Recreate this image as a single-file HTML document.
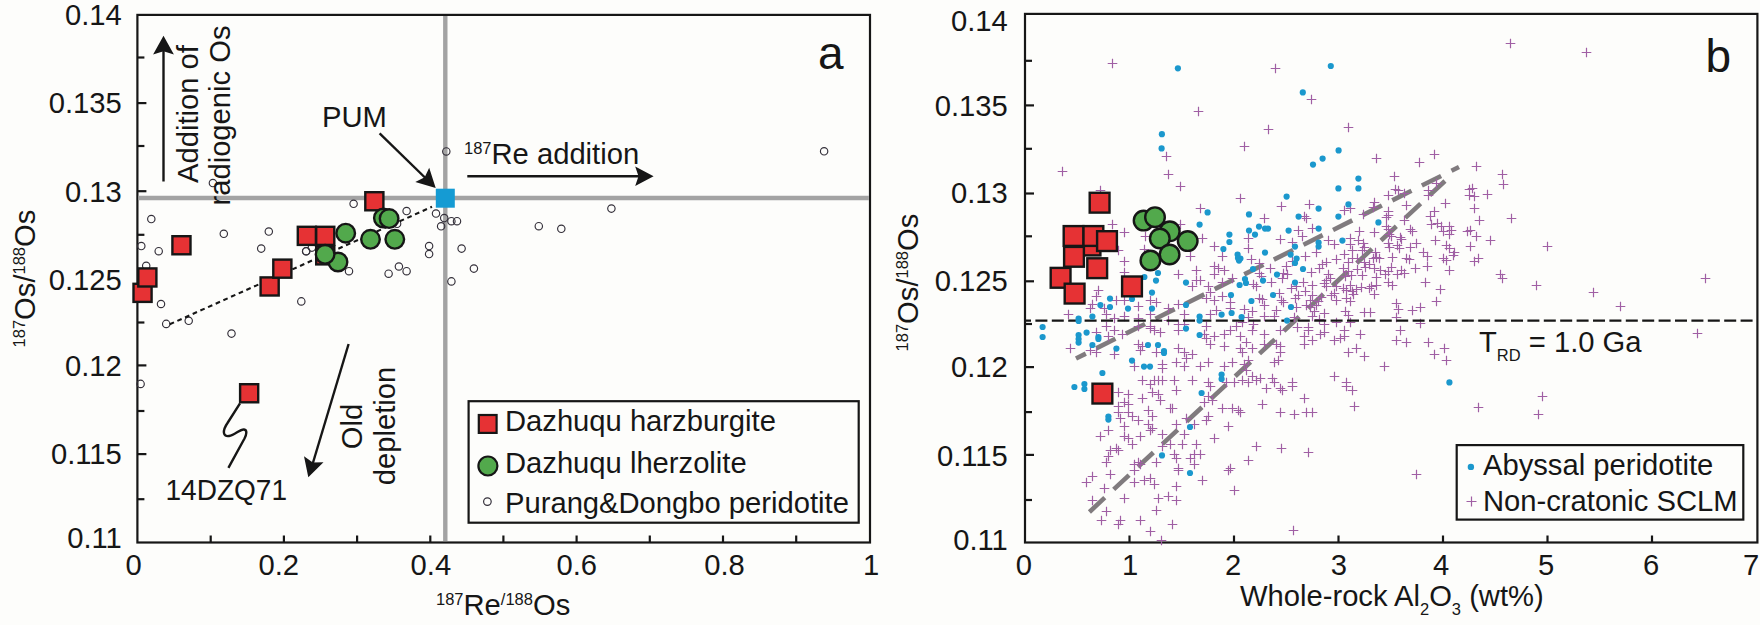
<!DOCTYPE html>
<html><head><meta charset="utf-8"><title>Os isotope plots</title>
<style>html,body{margin:0;padding:0;background:#fdfdfb;}svg{display:block;}</style></head>
<body><svg width="1760" height="625" viewBox="0 0 1760 625">
<rect width="1760" height="625" fill="#fdfdfb"/>
<rect x="137.4" y="14.9" width="732.6" height="527.6" fill="none" stroke="#161616" stroke-width="2.2"/>
<line x1="137.4" y1="57.5" x2="144.4" y2="57.5" stroke="#161616" stroke-width="2.2"/>
<line x1="137.4" y1="103.1" x2="146.4" y2="103.1" stroke="#161616" stroke-width="2.2"/>
<line x1="137.4" y1="146.0" x2="144.4" y2="146.0" stroke="#161616" stroke-width="2.2"/>
<line x1="137.4" y1="191.2" x2="146.4" y2="191.2" stroke="#161616" stroke-width="2.2"/>
<line x1="137.4" y1="234.8" x2="144.4" y2="234.8" stroke="#161616" stroke-width="2.2"/>
<line x1="137.4" y1="278.7" x2="146.4" y2="278.7" stroke="#161616" stroke-width="2.2"/>
<line x1="137.4" y1="322.5" x2="144.4" y2="322.5" stroke="#161616" stroke-width="2.2"/>
<line x1="137.4" y1="365.4" x2="146.4" y2="365.4" stroke="#161616" stroke-width="2.2"/>
<line x1="137.4" y1="411.0" x2="144.4" y2="411.0" stroke="#161616" stroke-width="2.2"/>
<line x1="137.4" y1="454.1" x2="146.4" y2="454.1" stroke="#161616" stroke-width="2.2"/>
<line x1="137.4" y1="499.2" x2="144.4" y2="499.2" stroke="#161616" stroke-width="2.2"/>
<line x1="210.7" y1="542.5" x2="210.7" y2="535.5" stroke="#161616" stroke-width="2.2"/>
<line x1="283.9" y1="542.5" x2="283.9" y2="535.5" stroke="#161616" stroke-width="2.2"/>
<line x1="357.1" y1="542.5" x2="357.1" y2="535.5" stroke="#161616" stroke-width="2.2"/>
<line x1="430.3" y1="542.5" x2="430.3" y2="535.5" stroke="#161616" stroke-width="2.2"/>
<line x1="503.4" y1="542.5" x2="503.4" y2="535.5" stroke="#161616" stroke-width="2.2"/>
<line x1="576.6" y1="542.5" x2="576.6" y2="535.5" stroke="#161616" stroke-width="2.2"/>
<line x1="649.8" y1="542.5" x2="649.8" y2="535.5" stroke="#161616" stroke-width="2.2"/>
<line x1="723.0" y1="542.5" x2="723.0" y2="535.5" stroke="#161616" stroke-width="2.2"/>
<line x1="796.2" y1="542.5" x2="796.2" y2="535.5" stroke="#161616" stroke-width="2.2"/>
<rect x="1025.0" y="13.9" width="732.4" height="528.6" fill="none" stroke="#161616" stroke-width="2.2"/>
<line x1="1025.0" y1="60.8" x2="1032.0" y2="60.8" stroke="#161616" stroke-width="2.2"/>
<line x1="1025.0" y1="105.4" x2="1034.0" y2="105.4" stroke="#161616" stroke-width="2.2"/>
<line x1="1025.0" y1="148.8" x2="1032.0" y2="148.8" stroke="#161616" stroke-width="2.2"/>
<line x1="1025.0" y1="193.5" x2="1034.0" y2="193.5" stroke="#161616" stroke-width="2.2"/>
<line x1="1025.0" y1="236.3" x2="1032.0" y2="236.3" stroke="#161616" stroke-width="2.2"/>
<line x1="1025.0" y1="281.3" x2="1034.0" y2="281.3" stroke="#161616" stroke-width="2.2"/>
<line x1="1025.0" y1="324.0" x2="1032.0" y2="324.0" stroke="#161616" stroke-width="2.2"/>
<line x1="1025.0" y1="367.1" x2="1034.0" y2="367.1" stroke="#161616" stroke-width="2.2"/>
<line x1="1025.0" y1="412.1" x2="1032.0" y2="412.1" stroke="#161616" stroke-width="2.2"/>
<line x1="1025.0" y1="454.9" x2="1034.0" y2="454.9" stroke="#161616" stroke-width="2.2"/>
<line x1="1025.0" y1="500.0" x2="1032.0" y2="500.0" stroke="#161616" stroke-width="2.2"/>
<line x1="1129.5" y1="542.5" x2="1129.5" y2="535.5" stroke="#161616" stroke-width="2.2"/>
<line x1="1234.0" y1="542.5" x2="1234.0" y2="535.5" stroke="#161616" stroke-width="2.2"/>
<line x1="1338.5" y1="542.5" x2="1338.5" y2="535.5" stroke="#161616" stroke-width="2.2"/>
<line x1="1443.0" y1="542.5" x2="1443.0" y2="535.5" stroke="#161616" stroke-width="2.2"/>
<line x1="1547.5" y1="542.5" x2="1547.5" y2="535.5" stroke="#161616" stroke-width="2.2"/>
<line x1="1652.0" y1="542.5" x2="1652.0" y2="535.5" stroke="#161616" stroke-width="2.2"/>
<line x1="138.5" y1="198.0" x2="868.9" y2="198.0" stroke="#a3a3a3" stroke-width="4.4"/>
<line x1="445.3" y1="16" x2="445.3" y2="541.1" stroke="#a3a3a3" stroke-width="4.4"/>
<circle cx="151.3" cy="219" r="3.7" fill="none" stroke="#34303a" stroke-width="1.15"/>
<circle cx="141.3" cy="246" r="3.7" fill="none" stroke="#34303a" stroke-width="1.15"/>
<circle cx="158.70000000000002" cy="251.2" r="3.7" fill="none" stroke="#34303a" stroke-width="1.15"/>
<circle cx="146.20000000000002" cy="265.8" r="3.7" fill="none" stroke="#34303a" stroke-width="1.15"/>
<circle cx="161.0" cy="304" r="3.7" fill="none" stroke="#34303a" stroke-width="1.15"/>
<circle cx="166.20000000000002" cy="323.9" r="3.7" fill="none" stroke="#34303a" stroke-width="1.15"/>
<circle cx="188.70000000000002" cy="320.8" r="3.7" fill="none" stroke="#34303a" stroke-width="1.15"/>
<circle cx="231.5" cy="333.6" r="3.7" fill="none" stroke="#34303a" stroke-width="1.15"/>
<circle cx="223.8" cy="233.8" r="3.7" fill="none" stroke="#34303a" stroke-width="1.15"/>
<circle cx="268.8" cy="231.5" r="3.7" fill="none" stroke="#34303a" stroke-width="1.15"/>
<circle cx="261.2" cy="248.6" r="3.7" fill="none" stroke="#34303a" stroke-width="1.15"/>
<circle cx="306.2" cy="251.2" r="3.7" fill="none" stroke="#34303a" stroke-width="1.15"/>
<circle cx="301.3" cy="301.4" r="3.7" fill="none" stroke="#34303a" stroke-width="1.15"/>
<circle cx="212.9" cy="183" r="3.7" fill="none" stroke="#34303a" stroke-width="1.15"/>
<circle cx="353.6" cy="203.8" r="3.7" fill="none" stroke="#34303a" stroke-width="1.15"/>
<circle cx="406.6" cy="211" r="3.7" fill="none" stroke="#34303a" stroke-width="1.15"/>
<circle cx="397.1" cy="223.8" r="3.7" fill="none" stroke="#34303a" stroke-width="1.15"/>
<circle cx="436.0" cy="213.5" r="3.7" fill="none" stroke="#34303a" stroke-width="1.15"/>
<circle cx="444.2" cy="218.1" r="3.7" fill="none" stroke="#34303a" stroke-width="1.15"/>
<circle cx="451.40000000000003" cy="221.2" r="3.7" fill="none" stroke="#34303a" stroke-width="1.15"/>
<circle cx="457.0" cy="221.2" r="3.7" fill="none" stroke="#34303a" stroke-width="1.15"/>
<circle cx="441.1" cy="226.3" r="3.7" fill="none" stroke="#34303a" stroke-width="1.15"/>
<circle cx="429.1" cy="246.1" r="3.7" fill="none" stroke="#34303a" stroke-width="1.15"/>
<circle cx="429.1" cy="254" r="3.7" fill="none" stroke="#34303a" stroke-width="1.15"/>
<circle cx="461.6" cy="248.6" r="3.7" fill="none" stroke="#34303a" stroke-width="1.15"/>
<circle cx="473.90000000000003" cy="268.6" r="3.7" fill="none" stroke="#34303a" stroke-width="1.15"/>
<circle cx="451.40000000000003" cy="281.4" r="3.7" fill="none" stroke="#34303a" stroke-width="1.15"/>
<circle cx="398.90000000000003" cy="266.5" r="3.7" fill="none" stroke="#34303a" stroke-width="1.15"/>
<circle cx="406.6" cy="271.2" r="3.7" fill="none" stroke="#34303a" stroke-width="1.15"/>
<circle cx="388.6" cy="273.7" r="3.7" fill="none" stroke="#34303a" stroke-width="1.15"/>
<circle cx="349.0" cy="271.2" r="3.7" fill="none" stroke="#34303a" stroke-width="1.15"/>
<circle cx="306.1" cy="251.3" r="3.7" fill="none" stroke="#34303a" stroke-width="1.15"/>
<circle cx="311.90000000000003" cy="247.6" r="3.7" fill="none" stroke="#34303a" stroke-width="1.15"/>
<circle cx="446.3" cy="151.4" r="3.7" fill="none" stroke="#34303a" stroke-width="1.15"/>
<circle cx="824.0999999999999" cy="151.3" r="3.7" fill="none" stroke="#34303a" stroke-width="1.15"/>
<circle cx="611.4" cy="208.6" r="3.7" fill="none" stroke="#34303a" stroke-width="1.15"/>
<circle cx="538.8" cy="226.2" r="3.7" fill="none" stroke="#34303a" stroke-width="1.15"/>
<circle cx="561.3" cy="228.8" r="3.7" fill="none" stroke="#34303a" stroke-width="1.15"/>
<circle cx="140.60000000000002" cy="383.9" r="3.7" fill="none" stroke="#34303a" stroke-width="1.15"/>
<line x1="169.7" y1="324.3" x2="432" y2="206.8" stroke="#161616" stroke-width="2.1" stroke-dasharray="4.7,3.7"/>
<rect x="133.5" y="283.8" width="18.1" height="18.1" fill="#e63234" stroke="#161616" stroke-width="2.4"/>
<rect x="138.3" y="268.4" width="18.1" height="18.1" fill="#e63234" stroke="#161616" stroke-width="2.4"/>
<rect x="172.4" y="236.2" width="18.1" height="18.1" fill="#e63234" stroke="#161616" stroke-width="2.4"/>
<rect x="260.6" y="277.4" width="18.1" height="18.1" fill="#e63234" stroke="#161616" stroke-width="2.4"/>
<rect x="273.3" y="259.6" width="18.1" height="18.1" fill="#e63234" stroke="#161616" stroke-width="2.4"/>
<rect x="297.8" y="226.8" width="18.1" height="18.1" fill="#e63234" stroke="#161616" stroke-width="2.4"/>
<rect x="316.2" y="246.3" width="18.1" height="18.1" fill="#e63234" stroke="#161616" stroke-width="2.4"/>
<rect x="316.2" y="226.8" width="18.1" height="18.1" fill="#e63234" stroke="#161616" stroke-width="2.4"/>
<rect x="365.3" y="192.2" width="18.1" height="18.1" fill="#e63234" stroke="#161616" stroke-width="2.4"/>
<rect x="240.1" y="384.2" width="18.1" height="18.1" fill="#e63234" stroke="#161616" stroke-width="2.4"/>
<circle cx="345.7" cy="233.2" r="9.3" fill="#52a94c" stroke="#161616" stroke-width="2.4"/>
<circle cx="338" cy="262" r="9.3" fill="#52a94c" stroke="#161616" stroke-width="2.4"/>
<circle cx="325.1" cy="254.3" r="9.3" fill="#52a94c" stroke="#161616" stroke-width="2.4"/>
<circle cx="370.5" cy="239.3" r="9.3" fill="#52a94c" stroke="#161616" stroke-width="2.4"/>
<circle cx="394.8" cy="239.3" r="9.3" fill="#52a94c" stroke="#161616" stroke-width="2.4"/>
<circle cx="383.4" cy="218" r="9.3" fill="#52a94c" stroke="#161616" stroke-width="2.4"/>
<circle cx="389.1" cy="218.6" r="9.3" fill="#52a94c" stroke="#161616" stroke-width="2.4"/>
<rect x="435.8" y="188.7" width="19" height="19" fill="#159bd3"/>
<line x1="163.5" y1="181.5" x2="163.5" y2="48" stroke="#161616" stroke-width="2.4"/>
<path d="M163.5,35.8 L173.9,54.6 L163.5,51.2 L153.1,54.6 Z" fill="#161616"/>
<line x1="379.6" y1="133.4" x2="428" y2="180.5" stroke="#161616" stroke-width="2.4"/>
<path d="M435.7,188.0 L415.3,182.1 L424.7,177.3 L429.2,167.7 Z" fill="#161616"/>
<line x1="467.3" y1="176.3" x2="642" y2="176.3" stroke="#161616" stroke-width="2.5"/>
<path d="M653.6,176.3 L635.2,186.0 L638.5,176.3 L635.2,166.6 Z" fill="#161616"/>
<line x1="348.6" y1="344" x2="312" y2="466" stroke="#161616" stroke-width="2.4"/>
<path d="M308.3,477.2 L304.0,456.3 L312.8,462.5 L323.5,462.2 Z" fill="#161616"/>
<path d="M240,403.3 L227.5,423 C222,431 223,437 229,436 C235,435 240,429 244,429.5 C247.5,430 246.5,434.5 244.5,438.5 L228.4,467.9" fill="none" stroke="#161616" stroke-width="2.4" stroke-linejoin="round"/>
<line x1="1076" y1="358.5" x2="1459" y2="167" stroke="#807b7e" stroke-width="4.6" stroke-dasharray="21.5,11.6" stroke-dashoffset="10.5"/>
<line x1="1089.4" y1="512" x2="1446" y2="180" stroke="#807b7e" stroke-width="4.6" stroke-dasharray="21,12.2"/>
<path d="M1107.7,63.5h9.6M1112.5,58.7v9.6M1270.7,68.5h9.6M1275.5,63.7v9.6M1193.7,111.5h9.6M1198.5,106.7v9.6M1263.7,129.5h9.6M1268.5,124.7v9.6M1306.7,99.5h9.6M1311.5,94.7v9.6M1343.7,127.5h9.6M1348.5,122.7v9.6M1505.7,43.5h9.6M1510.5,38.7v9.6M1581.7,52.5h9.6M1586.5,47.7v9.6M1057.7,171.5h9.6M1062.5,166.7v9.6M1161.7,156.5h9.6M1166.5,151.7v9.6M1163.7,174.5h9.6M1168.5,169.7v9.6M1175.7,186.5h9.6M1180.5,181.7v9.6M1235.7,198.5h9.6M1240.5,193.7v9.6M1195.7,208.5h9.6M1200.5,203.7v9.6M1107.7,224.5h9.6M1112.5,219.7v9.6M1119.7,232.5h9.6M1124.5,227.7v9.6M1175.7,224.5h9.6M1180.5,219.7v9.6M1197.7,238.5h9.6M1202.5,233.7v9.6M1209.7,246.5h9.6M1214.5,241.7v9.6M1217.7,256.5h9.6M1222.5,251.7v9.6M1185.7,256.5h9.6M1190.5,251.7v9.6M1119.7,261.5h9.6M1124.5,256.7v9.6M1140.7,236.5h9.6M1145.5,231.7v9.6M1243.7,238.5h9.6M1248.5,233.7v9.6M1095.7,190.5h9.6M1100.5,185.7v9.6M1113.7,250.5h9.6M1118.5,245.7v9.6M1139.7,249.5h9.6M1144.5,244.7v9.6M1239.7,146.5h9.6M1244.5,141.7v9.6M1371.7,158.5h9.6M1376.5,153.7v9.6M1429.7,154.5h9.6M1434.5,149.7v9.6M1414.7,162.5h9.6M1419.5,157.7v9.6M1389.7,176.5h9.6M1394.5,171.7v9.6M1276.7,206.5h9.6M1281.5,201.7v9.6M1304.7,204.5h9.6M1309.5,199.7v9.6M1259.7,218.5h9.6M1264.5,213.7v9.6M1299.7,216.5h9.6M1304.5,211.7v9.6M1301.7,218.5h9.6M1306.5,213.7v9.6M1339.7,210.5h9.6M1344.5,205.7v9.6M1345.7,208.5h9.6M1350.5,203.7v9.6M1293.7,230.5h9.6M1298.5,225.7v9.6M1307.7,228.5h9.6M1312.5,223.7v9.6M1275.7,239.5h9.6M1280.5,234.7v9.6M1297.7,236.5h9.6M1302.5,231.7v9.6M1287.7,242.5h9.6M1292.5,237.7v9.6M1243.7,248.5h9.6M1248.5,243.7v9.6M1311.7,252.5h9.6M1316.5,247.7v9.6M1323.7,240.5h9.6M1328.5,235.7v9.6M1329.7,244.5h9.6M1334.5,239.7v9.6M1345.7,238.5h9.6M1350.5,233.7v9.6M1345.7,244.5h9.6M1350.5,239.7v9.6M1339.7,254.5h9.6M1344.5,249.7v9.6M1347.7,250.5h9.6M1352.5,245.7v9.6M1471.7,166.5h9.6M1476.5,161.7v9.6M1497.7,174.5h9.6M1502.5,169.7v9.6M1498.7,184.5h9.6M1503.5,179.7v9.6M1467.7,188.5h9.6M1472.5,183.7v9.6M1469.7,196.5h9.6M1474.5,191.7v9.6M1482.7,194.5h9.6M1487.5,189.7v9.6M1469.7,208.5h9.6M1474.5,203.7v9.6M1474.7,220.5h9.6M1479.5,215.7v9.6M1506.7,218.5h9.6M1511.5,213.7v9.6M1465.7,230.5h9.6M1470.5,225.7v9.6M1471.7,236.5h9.6M1476.5,231.7v9.6M1485.7,240.5h9.6M1490.5,235.7v9.6M1465.7,246.5h9.6M1470.5,241.7v9.6M1542.7,246.5h9.6M1547.5,241.7v9.6M1473.7,258.5h9.6M1478.5,253.7v9.6M1469.7,261.5h9.6M1474.5,256.7v9.6M1119.7,272.5h9.6M1124.5,267.7v9.6M1173.7,274.5h9.6M1178.5,269.7v9.6M1191.7,270.5h9.6M1196.5,265.7v9.6M1191.7,280.5h9.6M1196.5,275.7v9.6M1195.7,280.5h9.6M1200.5,275.7v9.6M1187.7,286.5h9.6M1192.5,281.7v9.6M1209.7,266.5h9.6M1214.5,261.7v9.6M1213.7,268.5h9.6M1218.5,263.7v9.6M1219.7,270.5h9.6M1224.5,265.7v9.6M1209.7,274.5h9.6M1214.5,269.7v9.6M1227.7,278.5h9.6M1232.5,273.7v9.6M1217.7,282.5h9.6M1222.5,277.7v9.6M1203.7,286.5h9.6M1208.5,281.7v9.6M1205.7,292.5h9.6M1210.5,287.7v9.6M1201.7,298.5h9.6M1206.5,293.7v9.6M1209.7,300.5h9.6M1214.5,295.7v9.6M1217.7,296.5h9.6M1222.5,291.7v9.6M1225.7,302.5h9.6M1230.5,297.7v9.6M1093.7,290.5h9.6M1098.5,285.7v9.6M1091.7,296.5h9.6M1096.5,291.7v9.6M1087.7,304.5h9.6M1092.5,299.7v9.6M1085.7,308.5h9.6M1090.5,303.7v9.6M1099.7,308.5h9.6M1104.5,303.7v9.6M1111.7,300.5h9.6M1116.5,295.7v9.6M1119.7,300.5h9.6M1124.5,295.7v9.6M1133.7,306.5h9.6M1138.5,301.7v9.6M1145.7,300.5h9.6M1150.5,295.7v9.6M1151.7,302.5h9.6M1156.5,297.7v9.6M1163.7,308.5h9.6M1168.5,303.7v9.6M1173.7,304.5h9.6M1178.5,299.7v9.6M1063.7,314.5h9.6M1068.5,309.7v9.6M1101.7,314.5h9.6M1106.5,309.7v9.6M1109.7,318.5h9.6M1114.5,313.7v9.6M1119.7,316.5h9.6M1124.5,311.7v9.6M1133.7,318.5h9.6M1138.5,313.7v9.6M1145.7,314.5h9.6M1150.5,309.7v9.6M1179.7,314.5h9.6M1184.5,309.7v9.6M1163.7,320.5h9.6M1168.5,315.7v9.6M1173.7,324.5h9.6M1178.5,319.7v9.6M1179.7,324.5h9.6M1184.5,319.7v9.6M1205.7,314.5h9.6M1210.5,309.7v9.6M1211.7,310.5h9.6M1216.5,305.7v9.6M1225.7,308.5h9.6M1230.5,303.7v9.6M1201.7,326.5h9.6M1206.5,321.7v9.6M1231.7,326.5h9.6M1236.5,321.7v9.6M1225.7,330.5h9.6M1230.5,325.7v9.6M1101.7,326.5h9.6M1106.5,321.7v9.6M1109.7,330.5h9.6M1114.5,325.7v9.6M1117.7,334.5h9.6M1122.5,329.7v9.6M1145.7,326.5h9.6M1150.5,321.7v9.6M1145.7,328.5h9.6M1150.5,323.7v9.6M1149.7,330.5h9.6M1154.5,325.7v9.6M1155.7,332.5h9.6M1160.5,327.7v9.6M1133.7,326.5h9.6M1138.5,321.7v9.6M1091.7,332.5h9.6M1096.5,327.7v9.6M1103.7,336.5h9.6M1108.5,331.7v9.6M1173.7,330.5h9.6M1178.5,325.7v9.6M1199.7,334.5h9.6M1204.5,329.7v9.6M1209.7,336.5h9.6M1214.5,331.7v9.6M1219.7,334.5h9.6M1224.5,329.7v9.6M1235.7,336.5h9.6M1240.5,331.7v9.6M1065.7,348.5h9.6M1070.5,343.7v9.6M1085.7,350.5h9.6M1090.5,345.7v9.6M1091.7,352.5h9.6M1096.5,347.7v9.6M1109.7,354.5h9.6M1114.5,349.7v9.6M1133.7,344.5h9.6M1138.5,339.7v9.6M1137.7,346.5h9.6M1142.5,341.7v9.6M1135.7,350.5h9.6M1140.5,345.7v9.6M1151.7,352.5h9.6M1156.5,347.7v9.6M1173.7,348.5h9.6M1178.5,343.7v9.6M1179.7,352.5h9.6M1184.5,347.7v9.6M1187.7,354.5h9.6M1192.5,349.7v9.6M1201.7,338.5h9.6M1206.5,333.7v9.6M1205.7,344.5h9.6M1210.5,339.7v9.6M1219.7,346.5h9.6M1224.5,341.7v9.6M1235.7,348.5h9.6M1240.5,343.7v9.6M1237.7,352.5h9.6M1242.5,347.7v9.6M1241.7,342.5h9.6M1246.5,337.7v9.6M1227.7,362.5h9.6M1232.5,357.7v9.6M1219.7,366.5h9.6M1224.5,361.7v9.6M1203.7,362.5h9.6M1208.5,357.7v9.6M1195.7,366.5h9.6M1200.5,361.7v9.6M1181.7,358.5h9.6M1186.5,353.7v9.6M1171.7,362.5h9.6M1176.5,357.7v9.6M1179.7,366.5h9.6M1184.5,361.7v9.6M1157.7,364.5h9.6M1162.5,359.7v9.6M1157.7,368.5h9.6M1162.5,363.7v9.6M1129.7,366.5h9.6M1134.5,361.7v9.6M1137.7,380.5h9.6M1142.5,375.7v9.6M1149.7,380.5h9.6M1154.5,375.7v9.6M1153.7,380.5h9.6M1158.5,375.7v9.6M1169.7,380.5h9.6M1174.5,375.7v9.6M1187.7,380.5h9.6M1192.5,375.7v9.6M1203.7,382.5h9.6M1208.5,377.7v9.6M1221.7,382.5h9.6M1226.5,377.7v9.6M1237.7,380.5h9.6M1242.5,375.7v9.6M1241.7,370.5h9.6M1246.5,365.7v9.6M1247.7,330.5h9.6M1252.5,325.7v9.6M1259.7,334.5h9.6M1264.5,329.7v9.6M1275.7,330.5h9.6M1280.5,325.7v9.6M1299.7,336.5h9.6M1304.5,331.7v9.6M1303.7,330.5h9.6M1308.5,325.7v9.6M1307.7,340.5h9.6M1312.5,335.7v9.6M1315.7,334.5h9.6M1320.5,329.7v9.6M1319.7,332.5h9.6M1324.5,327.7v9.6M1329.7,340.5h9.6M1334.5,335.7v9.6M1335.7,338.5h9.6M1340.5,333.7v9.6M1339.7,336.5h9.6M1344.5,331.7v9.6M1339.7,330.5h9.6M1344.5,325.7v9.6M1355.7,334.5h9.6M1360.5,329.7v9.6M1395.7,330.5h9.6M1400.5,325.7v9.6M1391.7,340.5h9.6M1396.5,335.7v9.6M1401.7,342.5h9.6M1406.5,337.7v9.6M1423.7,342.5h9.6M1428.5,337.7v9.6M1247.7,348.5h9.6M1252.5,343.7v9.6M1259.7,344.5h9.6M1264.5,339.7v9.6M1271.7,344.5h9.6M1276.5,339.7v9.6M1275.7,346.5h9.6M1280.5,341.7v9.6M1275.7,352.5h9.6M1280.5,347.7v9.6M1299.7,344.5h9.6M1304.5,339.7v9.6M1343.7,352.5h9.6M1348.5,347.7v9.6M1351.7,348.5h9.6M1356.5,343.7v9.6M1359.7,356.5h9.6M1364.5,351.7v9.6M1429.7,354.5h9.6M1434.5,349.7v9.6M1439.7,348.5h9.6M1444.5,343.7v9.6M1441.7,360.5h9.6M1446.5,355.7v9.6M1239.7,364.5h9.6M1244.5,359.7v9.6M1243.7,360.5h9.6M1248.5,355.7v9.6M1247.7,376.5h9.6M1252.5,371.7v9.6M1255.7,378.5h9.6M1260.5,373.7v9.6M1267.7,378.5h9.6M1272.5,373.7v9.6M1269.7,362.5h9.6M1274.5,357.7v9.6M1273.7,360.5h9.6M1278.5,355.7v9.6M1329.7,376.5h9.6M1334.5,371.7v9.6M1341.7,382.5h9.6M1346.5,377.7v9.6M1379.7,366.5h9.6M1384.5,361.7v9.6M1287.7,382.5h9.6M1292.5,377.7v9.6M1495.7,274.5h9.6M1500.5,269.7v9.6M1497.7,278.5h9.6M1502.5,273.7v9.6M1531.7,285.5h9.6M1536.5,280.7v9.6M1588.7,292.5h9.6M1593.5,287.7v9.6M1615.7,306.5h9.6M1620.5,301.7v9.6M1700.7,278.5h9.6M1705.5,273.7v9.6M1692.7,333.5h9.6M1697.5,328.7v9.6M1145.7,384.5h9.6M1150.5,379.7v9.6M1157.7,380.5h9.6M1162.5,375.7v9.6M1205.7,386.5h9.6M1210.5,381.7v9.6M1229.7,382.5h9.6M1234.5,377.7v9.6M1243.7,382.5h9.6M1248.5,377.7v9.6M1113.7,392.5h9.6M1118.5,387.7v9.6M1123.7,394.5h9.6M1128.5,389.7v9.6M1137.7,398.5h9.6M1142.5,393.7v9.6M1147.7,392.5h9.6M1152.5,387.7v9.6M1153.7,394.5h9.6M1158.5,389.7v9.6M1155.7,400.5h9.6M1160.5,395.7v9.6M1171.7,390.5h9.6M1176.5,385.7v9.6M1203.7,396.5h9.6M1208.5,391.7v9.6M1207.7,400.5h9.6M1212.5,395.7v9.6M1199.7,402.5h9.6M1204.5,397.7v9.6M1113.7,406.5h9.6M1118.5,401.7v9.6M1119.7,402.5h9.6M1124.5,397.7v9.6M1123.7,404.5h9.6M1128.5,399.7v9.6M1113.7,412.5h9.6M1118.5,407.7v9.6M1123.7,412.5h9.6M1128.5,407.7v9.6M1127.7,416.5h9.6M1132.5,411.7v9.6M1143.7,410.5h9.6M1148.5,405.7v9.6M1147.7,416.5h9.6M1152.5,411.7v9.6M1165.7,408.5h9.6M1170.5,403.7v9.6M1167.7,408.5h9.6M1172.5,403.7v9.6M1217.7,408.5h9.6M1222.5,403.7v9.6M1227.7,408.5h9.6M1232.5,403.7v9.6M1233.7,410.5h9.6M1238.5,405.7v9.6M1235.7,412.5h9.6M1240.5,407.7v9.6M1115.7,418.5h9.6M1120.5,413.7v9.6M1133.7,420.5h9.6M1138.5,415.7v9.6M1143.7,424.5h9.6M1148.5,419.7v9.6M1145.7,430.5h9.6M1150.5,425.7v9.6M1147.7,428.5h9.6M1152.5,423.7v9.6M1171.7,424.5h9.6M1176.5,419.7v9.6M1181.7,418.5h9.6M1186.5,413.7v9.6M1189.7,424.5h9.6M1194.5,419.7v9.6M1201.7,420.5h9.6M1206.5,415.7v9.6M1203.7,416.5h9.6M1208.5,411.7v9.6M1223.7,426.5h9.6M1228.5,421.7v9.6M1095.7,436.5h9.6M1100.5,431.7v9.6M1103.7,430.5h9.6M1108.5,425.7v9.6M1119.7,426.5h9.6M1124.5,421.7v9.6M1119.7,436.5h9.6M1124.5,431.7v9.6M1123.7,438.5h9.6M1128.5,433.7v9.6M1135.7,436.5h9.6M1140.5,431.7v9.6M1127.7,444.5h9.6M1132.5,439.7v9.6M1157.7,434.5h9.6M1162.5,429.7v9.6M1165.7,444.5h9.6M1170.5,439.7v9.6M1177.7,444.5h9.6M1182.5,439.7v9.6M1179.7,434.5h9.6M1184.5,429.7v9.6M1191.7,444.5h9.6M1196.5,439.7v9.6M1209.7,438.5h9.6M1214.5,433.7v9.6M1105.7,450.5h9.6M1110.5,445.7v9.6M1111.7,448.5h9.6M1116.5,443.7v9.6M1113.7,450.5h9.6M1118.5,445.7v9.6M1103.7,456.5h9.6M1108.5,451.7v9.6M1101.7,462.5h9.6M1106.5,457.7v9.6M1129.7,464.5h9.6M1134.5,459.7v9.6M1133.7,462.5h9.6M1138.5,457.7v9.6M1135.7,464.5h9.6M1140.5,459.7v9.6M1151.7,462.5h9.6M1156.5,457.7v9.6M1157.7,446.5h9.6M1162.5,441.7v9.6M1169.7,454.5h9.6M1174.5,449.7v9.6M1171.7,458.5h9.6M1176.5,453.7v9.6M1185.7,458.5h9.6M1190.5,453.7v9.6M1189.7,454.5h9.6M1194.5,449.7v9.6M1195.7,454.5h9.6M1200.5,449.7v9.6M1189.7,464.5h9.6M1194.5,459.7v9.6M1173.7,468.5h9.6M1178.5,463.7v9.6M1225.7,468.5h9.6M1230.5,463.7v9.6M1243.7,460.5h9.6M1248.5,455.7v9.6M1081.7,482.5h9.6M1086.5,477.7v9.6M1087.7,476.5h9.6M1092.5,471.7v9.6M1105.7,474.5h9.6M1110.5,469.7v9.6M1099.7,488.5h9.6M1104.5,483.7v9.6M1129.7,482.5h9.6M1134.5,477.7v9.6M1139.7,480.5h9.6M1144.5,475.7v9.6M1145.7,478.5h9.6M1150.5,473.7v9.6M1149.7,484.5h9.6M1154.5,479.7v9.6M1171.7,486.5h9.6M1176.5,481.7v9.6M1197.7,480.5h9.6M1202.5,475.7v9.6M1229.7,490.5h9.6M1234.5,485.7v9.6M1087.7,500.5h9.6M1092.5,495.7v9.6M1119.7,498.5h9.6M1124.5,493.7v9.6M1153.7,498.5h9.6M1158.5,493.7v9.6M1163.7,496.5h9.6M1168.5,491.7v9.6M1171.7,500.5h9.6M1176.5,495.7v9.6M1251.7,380.5h9.6M1256.5,375.7v9.6M1261.7,388.5h9.6M1266.5,383.7v9.6M1269.7,382.5h9.6M1274.5,377.7v9.6M1275.7,388.5h9.6M1280.5,383.7v9.6M1277.7,390.5h9.6M1282.5,385.7v9.6M1287.7,386.5h9.6M1292.5,381.7v9.6M1299.7,398.5h9.6M1304.5,393.7v9.6M1257.7,404.5h9.6M1262.5,399.7v9.6M1275.7,412.5h9.6M1280.5,407.7v9.6M1289.7,414.5h9.6M1294.5,409.7v9.6M1301.7,412.5h9.6M1306.5,407.7v9.6M1307.7,412.5h9.6M1312.5,407.7v9.6M1341.7,386.5h9.6M1346.5,381.7v9.6M1347.7,390.5h9.6M1352.5,385.7v9.6M1349.7,406.5h9.6M1354.5,401.7v9.6M1251.7,446.5h9.6M1256.5,441.7v9.6M1276.7,448.5h9.6M1281.5,443.7v9.6M1303.7,452.5h9.6M1308.5,447.7v9.6M1411.7,474.5h9.6M1416.5,469.7v9.6M1473.7,407.5h9.6M1478.5,402.7v9.6M1537.7,396.5h9.6M1542.5,391.7v9.6M1533.7,414.5h9.6M1538.5,409.7v9.6M1101.7,511.5h9.6M1106.5,506.7v9.6M1096.7,520.5h9.6M1101.5,515.7v9.6M1115.7,520.5h9.6M1120.5,515.7v9.6M1113.7,524.5h9.6M1118.5,519.7v9.6M1129.7,470.5h9.6M1134.5,465.7v9.6M1151.7,510.5h9.6M1156.5,505.7v9.6M1135.7,520.5h9.6M1140.5,515.7v9.6M1145.7,531.5h9.6M1150.5,526.7v9.6M1156.7,540.5h9.6M1161.5,535.7v9.6M1167.7,524.5h9.6M1172.5,519.7v9.6M1173.7,470.5h9.6M1178.5,465.7v9.6M1223.7,470.5h9.6M1228.5,465.7v9.6M1288.7,530.5h9.6M1293.5,525.7v9.6M1390.7,189.5h9.6M1395.5,184.7v9.6M1393.7,190.5h9.6M1398.5,185.7v9.6M1399.7,193.5h9.6M1404.5,188.7v9.6M1383.7,195.5h9.6M1388.5,190.7v9.6M1369.7,202.5h9.6M1374.5,197.7v9.6M1368.7,207.5h9.6M1373.5,202.7v9.6M1358.7,214.5h9.6M1363.5,209.7v9.6M1401.7,205.5h9.6M1406.5,200.7v9.6M1423.7,190.5h9.6M1428.5,185.7v9.6M1423.7,195.5h9.6M1428.5,190.7v9.6M1431.7,183.5h9.6M1436.5,178.7v9.6M1440.7,203.5h9.6M1445.5,198.7v9.6M1464.7,189.5h9.6M1469.5,184.7v9.6M1464.7,195.5h9.6M1469.5,190.7v9.6M1383.7,211.5h9.6M1388.5,206.7v9.6M1383.7,215.5h9.6M1388.5,210.7v9.6M1381.7,217.5h9.6M1386.5,212.7v9.6M1399.7,220.5h9.6M1404.5,215.7v9.6M1429.7,211.5h9.6M1434.5,206.7v9.6M1425.7,216.5h9.6M1430.5,211.7v9.6M1426.7,224.5h9.6M1431.5,219.7v9.6M1432.7,223.5h9.6M1437.5,218.7v9.6M1436.7,226.5h9.6M1441.5,221.7v9.6M1444.7,226.5h9.6M1449.5,221.7v9.6M1446.7,230.5h9.6M1451.5,225.7v9.6M1444.7,234.5h9.6M1449.5,229.7v9.6M1438.7,231.5h9.6M1443.5,226.7v9.6M1462.7,231.5h9.6M1467.5,226.7v9.6M1354.7,231.5h9.6M1359.5,226.7v9.6M1369.7,232.5h9.6M1374.5,227.7v9.6M1381.7,226.5h9.6M1386.5,221.7v9.6M1383.7,229.5h9.6M1388.5,224.7v9.6M1384.7,234.5h9.6M1389.5,229.7v9.6M1386.7,236.5h9.6M1391.5,231.7v9.6M1405.7,229.5h9.6M1410.5,224.7v9.6M1407.7,231.5h9.6M1412.5,226.7v9.6M1395.7,237.5h9.6M1400.5,232.7v9.6M1396.7,239.5h9.6M1401.5,234.7v9.6M1430.7,240.5h9.6M1435.5,235.7v9.6M1353.7,240.5h9.6M1358.5,235.7v9.6M1358.7,243.5h9.6M1363.5,238.7v9.6M1359.7,247.5h9.6M1364.5,242.7v9.6M1357.7,250.5h9.6M1362.5,245.7v9.6M1383.7,243.5h9.6M1388.5,238.7v9.6M1384.7,247.5h9.6M1389.5,242.7v9.6M1392.7,245.5h9.6M1397.5,240.7v9.6M1394.7,248.5h9.6M1399.5,243.7v9.6M1405.7,247.5h9.6M1410.5,242.7v9.6M1411.7,243.5h9.6M1416.5,238.7v9.6M1418.7,252.5h9.6M1423.5,247.7v9.6M1441.7,245.5h9.6M1446.5,240.7v9.6M1444.7,248.5h9.6M1449.5,243.7v9.6M1449.7,252.5h9.6M1454.5,247.7v9.6M1370.7,252.5h9.6M1375.5,247.7v9.6M1246.7,259.5h9.6M1251.5,254.7v9.6M1254.7,263.5h9.6M1259.5,258.7v9.6M1265.7,268.5h9.6M1270.5,263.7v9.6M1281.7,266.5h9.6M1286.5,261.7v9.6M1287.7,261.5h9.6M1292.5,256.7v9.6M1300.7,256.5h9.6M1305.5,251.7v9.6M1317.7,264.5h9.6M1322.5,259.7v9.6M1321.7,262.5h9.6M1326.5,257.7v9.6M1331.7,259.5h9.6M1336.5,254.7v9.6M1343.7,262.5h9.6M1348.5,257.7v9.6M1347.7,258.5h9.6M1352.5,253.7v9.6M1254.7,273.5h9.6M1259.5,268.7v9.6M1256.7,276.5h9.6M1261.5,271.7v9.6M1278.7,273.5h9.6M1283.5,268.7v9.6M1282.7,274.5h9.6M1287.5,269.7v9.6M1277.7,278.5h9.6M1282.5,273.7v9.6M1306.7,272.5h9.6M1311.5,267.7v9.6M1314.7,268.5h9.6M1319.5,263.7v9.6M1323.7,274.5h9.6M1328.5,269.7v9.6M1325.7,278.5h9.6M1330.5,273.7v9.6M1321.7,280.5h9.6M1326.5,275.7v9.6M1338.7,268.5h9.6M1343.5,263.7v9.6M1343.7,271.5h9.6M1348.5,266.7v9.6M1340.7,276.5h9.6M1345.5,271.7v9.6M1346.7,275.5h9.6M1351.5,270.7v9.6M1248.7,284.5h9.6M1253.5,279.7v9.6M1251.7,286.5h9.6M1256.5,281.7v9.6M1266.7,282.5h9.6M1271.5,277.7v9.6M1286.7,288.5h9.6M1291.5,283.7v9.6M1291.7,286.5h9.6M1296.5,281.7v9.6M1298.7,282.5h9.6M1303.5,277.7v9.6M1300.7,291.5h9.6M1305.5,286.7v9.6M1307.7,285.5h9.6M1312.5,280.7v9.6M1319.7,283.5h9.6M1324.5,278.7v9.6M1321.7,286.5h9.6M1326.5,281.7v9.6M1331.7,286.5h9.6M1336.5,281.7v9.6M1338.7,288.5h9.6M1343.5,283.7v9.6M1341.7,290.5h9.6M1346.5,285.7v9.6M1345.7,285.5h9.6M1350.5,280.7v9.6M1347.7,291.5h9.6M1352.5,286.7v9.6M1254.7,298.5h9.6M1259.5,293.7v9.6M1257.7,299.5h9.6M1262.5,294.7v9.6M1274.7,293.5h9.6M1279.5,288.7v9.6M1276.7,300.5h9.6M1281.5,295.7v9.6M1278.7,302.5h9.6M1283.5,297.7v9.6M1290.7,298.5h9.6M1295.5,293.7v9.6M1293.7,295.5h9.6M1298.5,290.7v9.6M1305.7,300.5h9.6M1310.5,295.7v9.6M1307.7,295.5h9.6M1312.5,290.7v9.6M1313.7,301.5h9.6M1318.5,296.7v9.6M1316.7,297.5h9.6M1321.5,292.7v9.6M1326.7,295.5h9.6M1331.5,290.7v9.6M1329.7,293.5h9.6M1334.5,288.7v9.6M1331.7,300.5h9.6M1336.5,295.7v9.6M1341.7,298.5h9.6M1346.5,293.7v9.6M1345.7,301.5h9.6M1350.5,296.7v9.6M1348.7,294.5h9.6M1353.5,289.7v9.6M1239.7,309.5h9.6M1244.5,304.7v9.6M1247.7,311.5h9.6M1252.5,306.7v9.6M1259.7,305.5h9.6M1264.5,300.7v9.6M1271.7,310.5h9.6M1276.5,305.7v9.6M1291.7,307.5h9.6M1296.5,302.7v9.6M1301.7,305.5h9.6M1306.5,300.7v9.6M1305.7,307.5h9.6M1310.5,302.7v9.6M1309.7,311.5h9.6M1314.5,306.7v9.6M1311.7,305.5h9.6M1316.5,300.7v9.6M1319.7,313.5h9.6M1324.5,308.7v9.6M1340.7,311.5h9.6M1345.5,306.7v9.6M1343.7,315.5h9.6M1348.5,310.7v9.6M1237.7,322.5h9.6M1242.5,317.7v9.6M1243.7,317.5h9.6M1248.5,312.7v9.6M1248.7,324.5h9.6M1253.5,319.7v9.6M1259.7,316.5h9.6M1264.5,311.7v9.6M1269.7,316.5h9.6M1274.5,311.7v9.6M1289.7,317.5h9.6M1294.5,312.7v9.6M1307.7,316.5h9.6M1312.5,311.7v9.6M1314.7,319.5h9.6M1319.5,314.7v9.6M1319.7,324.5h9.6M1324.5,319.7v9.6M1331.7,322.5h9.6M1336.5,317.7v9.6M1345.7,322.5h9.6M1350.5,317.7v9.6M1292.7,327.5h9.6M1297.5,322.7v9.6M1303.7,327.5h9.6M1308.5,322.7v9.6M1352.7,258.5h9.6M1357.5,253.7v9.6M1359.7,262.5h9.6M1364.5,257.7v9.6M1368.7,258.5h9.6M1373.5,253.7v9.6M1371.7,257.5h9.6M1376.5,252.7v9.6M1374.7,258.5h9.6M1379.5,253.7v9.6M1387.7,257.5h9.6M1392.5,252.7v9.6M1401.7,258.5h9.6M1406.5,253.7v9.6M1404.7,259.5h9.6M1409.5,254.7v9.6M1422.7,256.5h9.6M1427.5,251.7v9.6M1438.7,258.5h9.6M1443.5,253.7v9.6M1441.7,260.5h9.6M1446.5,255.7v9.6M1448.7,255.5h9.6M1453.5,250.7v9.6M1410.7,268.5h9.6M1415.5,263.7v9.6M1422.7,266.5h9.6M1427.5,261.7v9.6M1386.7,267.5h9.6M1391.5,262.7v9.6M1357.7,275.5h9.6M1362.5,270.7v9.6M1352.7,269.5h9.6M1357.5,264.7v9.6M1360.7,267.5h9.6M1365.5,262.7v9.6M1369.7,268.5h9.6M1374.5,263.7v9.6M1375.7,270.5h9.6M1380.5,265.7v9.6M1380.7,274.5h9.6M1385.5,269.7v9.6M1383.7,271.5h9.6M1388.5,266.7v9.6M1392.7,274.5h9.6M1397.5,269.7v9.6M1396.7,270.5h9.6M1401.5,265.7v9.6M1399.7,273.5h9.6M1404.5,268.7v9.6M1444.7,270.5h9.6M1449.5,265.7v9.6M1371.7,277.5h9.6M1376.5,272.7v9.6M1364.7,264.5h9.6M1369.5,259.7v9.6M1356.7,287.5h9.6M1361.5,282.7v9.6M1351.7,289.5h9.6M1356.5,284.7v9.6M1364.7,288.5h9.6M1369.5,283.7v9.6M1366.7,286.5h9.6M1371.5,281.7v9.6M1371.7,285.5h9.6M1376.5,280.7v9.6M1383.7,282.5h9.6M1388.5,277.7v9.6M1387.7,285.5h9.6M1392.5,280.7v9.6M1420.7,282.5h9.6M1425.5,277.7v9.6M1435.7,289.5h9.6M1440.5,284.7v9.6M1369.7,294.5h9.6M1374.5,289.7v9.6M1431.7,301.5h9.6M1436.5,296.7v9.6M1391.7,303.5h9.6M1396.5,298.7v9.6M1359.7,312.5h9.6M1364.5,307.7v9.6M1365.7,312.5h9.6M1370.5,307.7v9.6M1393.7,309.5h9.6M1398.5,304.7v9.6M1407.7,310.5h9.6M1412.5,305.7v9.6M1415.7,307.5h9.6M1420.5,302.7v9.6M1391.7,317.5h9.6M1396.5,312.7v9.6M1415.7,323.5h9.6M1420.5,318.7v9.6" fill="none" stroke="#a05fa4" stroke-width="1.2"/>
<line x1="1025.0" y1="320.6" x2="1757.4" y2="320.6" stroke="#161616" stroke-width="2.2" stroke-dasharray="12,4.4" stroke-dashoffset="6"/>
<circle cx="1177.9" cy="68.3" r="3.1" fill="#1b98cd"/>
<circle cx="1302.8" cy="92.4" r="3.1" fill="#1b98cd"/>
<circle cx="1161.9" cy="134.2" r="3.1" fill="#1b98cd"/>
<circle cx="1330.8" cy="66" r="3.1" fill="#1b98cd"/>
<circle cx="1161.6" cy="148.4" r="3.1" fill="#1b98cd"/>
<circle cx="1207.6" cy="212.4" r="3.1" fill="#1b98cd"/>
<circle cx="1199.6" cy="224.6" r="3.1" fill="#1b98cd"/>
<circle cx="1249" cy="214.4" r="3.1" fill="#1b98cd"/>
<circle cx="1249" cy="230.6" r="3.1" fill="#1b98cd"/>
<circle cx="1229.4" cy="234.6" r="3.1" fill="#1b98cd"/>
<circle cx="1229.4" cy="242" r="3.1" fill="#1b98cd"/>
<circle cx="1223.4" cy="249" r="3.1" fill="#1b98cd"/>
<circle cx="1237.6" cy="254.6" r="3.1" fill="#1b98cd"/>
<circle cx="1240.4" cy="258.6" r="3.1" fill="#1b98cd"/>
<circle cx="1238" cy="258" r="3.1" fill="#1b98cd"/>
<circle cx="1338.6" cy="150.4" r="3.1" fill="#1b98cd"/>
<circle cx="1322.6" cy="158.6" r="3.1" fill="#1b98cd"/>
<circle cx="1313" cy="164.6" r="3.1" fill="#1b98cd"/>
<circle cx="1358.4" cy="178.6" r="3.1" fill="#1b98cd"/>
<circle cx="1338.4" cy="188.4" r="3.1" fill="#1b98cd"/>
<circle cx="1358.4" cy="188.4" r="3.1" fill="#1b98cd"/>
<circle cx="1286.6" cy="196.6" r="3.1" fill="#1b98cd"/>
<circle cx="1348.4" cy="204.4" r="3.1" fill="#1b98cd"/>
<circle cx="1318.6" cy="208.6" r="3.1" fill="#1b98cd"/>
<circle cx="1298.6" cy="216.6" r="3.1" fill="#1b98cd"/>
<circle cx="1338.4" cy="216.6" r="3.1" fill="#1b98cd"/>
<circle cx="1378.4" cy="222.4" r="3.1" fill="#1b98cd"/>
<circle cx="1259" cy="226.6" r="3.1" fill="#1b98cd"/>
<circle cx="1265" cy="228.6" r="3.1" fill="#1b98cd"/>
<circle cx="1268" cy="228.6" r="3.1" fill="#1b98cd"/>
<circle cx="1255" cy="234.6" r="3.1" fill="#1b98cd"/>
<circle cx="1288.6" cy="230.6" r="3.1" fill="#1b98cd"/>
<circle cx="1318.6" cy="228.6" r="3.1" fill="#1b98cd"/>
<circle cx="1342.4" cy="240.6" r="3.1" fill="#1b98cd"/>
<circle cx="1318.6" cy="242.6" r="3.1" fill="#1b98cd"/>
<circle cx="1318.6" cy="246.6" r="3.1" fill="#1b98cd"/>
<circle cx="1295" cy="246.6" r="3.1" fill="#1b98cd"/>
<circle cx="1265" cy="252.6" r="3.1" fill="#1b98cd"/>
<circle cx="1290.6" cy="254.6" r="3.1" fill="#1b98cd"/>
<circle cx="1296.6" cy="258.6" r="3.1" fill="#1b98cd"/>
<circle cx="1295" cy="263" r="3.1" fill="#1b98cd"/>
<circle cx="1158" cy="273" r="3.1" fill="#1b98cd"/>
<circle cx="1144.4" cy="277" r="3.1" fill="#1b98cd"/>
<circle cx="1156" cy="280.6" r="3.1" fill="#1b98cd"/>
<circle cx="1186" cy="282.6" r="3.1" fill="#1b98cd"/>
<circle cx="1239" cy="260.6" r="3.1" fill="#1b98cd"/>
<circle cx="1245" cy="279" r="3.1" fill="#1b98cd"/>
<circle cx="1246" cy="283" r="3.1" fill="#1b98cd"/>
<circle cx="1239.6" cy="285" r="3.1" fill="#1b98cd"/>
<circle cx="1231" cy="295" r="3.1" fill="#1b98cd"/>
<circle cx="1152" cy="292.6" r="3.1" fill="#1b98cd"/>
<circle cx="1132" cy="299" r="3.1" fill="#1b98cd"/>
<circle cx="1110" cy="298.6" r="3.1" fill="#1b98cd"/>
<circle cx="1100.4" cy="305" r="3.1" fill="#1b98cd"/>
<circle cx="1110" cy="307" r="3.1" fill="#1b98cd"/>
<circle cx="1128" cy="308.6" r="3.1" fill="#1b98cd"/>
<circle cx="1152" cy="308.6" r="3.1" fill="#1b98cd"/>
<circle cx="1186" cy="305" r="3.1" fill="#1b98cd"/>
<circle cx="1221.6" cy="314.6" r="3.1" fill="#1b98cd"/>
<circle cx="1231.6" cy="313" r="3.1" fill="#1b98cd"/>
<circle cx="1241.6" cy="317" r="3.1" fill="#1b98cd"/>
<circle cx="1199.6" cy="316.6" r="3.1" fill="#1b98cd"/>
<circle cx="1199.6" cy="320.6" r="3.1" fill="#1b98cd"/>
<circle cx="1078.6" cy="318.6" r="3.1" fill="#1b98cd"/>
<circle cx="1078.6" cy="321" r="3.1" fill="#1b98cd"/>
<circle cx="1092.4" cy="316.6" r="3.1" fill="#1b98cd"/>
<circle cx="1042.6" cy="327" r="3.1" fill="#1b98cd"/>
<circle cx="1042.6" cy="337" r="3.1" fill="#1b98cd"/>
<circle cx="1078.6" cy="335" r="3.1" fill="#1b98cd"/>
<circle cx="1078.6" cy="339" r="3.1" fill="#1b98cd"/>
<circle cx="1078.6" cy="342.6" r="3.1" fill="#1b98cd"/>
<circle cx="1086.6" cy="332.6" r="3.1" fill="#1b98cd"/>
<circle cx="1098.4" cy="337" r="3.1" fill="#1b98cd"/>
<circle cx="1098.4" cy="339" r="3.1" fill="#1b98cd"/>
<circle cx="1092.4" cy="345" r="3.1" fill="#1b98cd"/>
<circle cx="1116.4" cy="348.6" r="3.1" fill="#1b98cd"/>
<circle cx="1148" cy="345" r="3.1" fill="#1b98cd"/>
<circle cx="1158" cy="345" r="3.1" fill="#1b98cd"/>
<circle cx="1164" cy="351" r="3.1" fill="#1b98cd"/>
<circle cx="1164" cy="353" r="3.1" fill="#1b98cd"/>
<circle cx="1186" cy="328.6" r="3.1" fill="#1b98cd"/>
<circle cx="1199.6" cy="335" r="3.1" fill="#1b98cd"/>
<circle cx="1132" cy="360.6" r="3.1" fill="#1b98cd"/>
<circle cx="1144" cy="366.6" r="3.1" fill="#1b98cd"/>
<circle cx="1150" cy="366.6" r="3.1" fill="#1b98cd"/>
<circle cx="1102.4" cy="373" r="3.1" fill="#1b98cd"/>
<circle cx="1221.6" cy="374.6" r="3.1" fill="#1b98cd"/>
<circle cx="1221.6" cy="379" r="3.1" fill="#1b98cd"/>
<circle cx="1084.4" cy="384" r="3.1" fill="#1b98cd"/>
<circle cx="1253" cy="269" r="3.1" fill="#1b98cd"/>
<circle cx="1263" cy="280.6" r="3.1" fill="#1b98cd"/>
<circle cx="1277" cy="274.6" r="3.1" fill="#1b98cd"/>
<circle cx="1303" cy="269" r="3.1" fill="#1b98cd"/>
<circle cx="1295" cy="282.6" r="3.1" fill="#1b98cd"/>
<circle cx="1273" cy="295" r="3.1" fill="#1b98cd"/>
<circle cx="1251.4" cy="301" r="3.1" fill="#1b98cd"/>
<circle cx="1291" cy="307" r="3.1" fill="#1b98cd"/>
<circle cx="1287" cy="320.6" r="3.1" fill="#1b98cd"/>
<circle cx="1449.4" cy="382.4" r="3.1" fill="#1b98cd"/>
<circle cx="1074.4" cy="387" r="3.1" fill="#1b98cd"/>
<circle cx="1084.4" cy="389" r="3.1" fill="#1b98cd"/>
<circle cx="1108.4" cy="416.6" r="3.1" fill="#1b98cd"/>
<circle cx="1108.4" cy="419.6" r="3.1" fill="#1b98cd"/>
<circle cx="1201.6" cy="393" r="3.1" fill="#1b98cd"/>
<circle cx="1190" cy="427" r="3.1" fill="#1b98cd"/>
<circle cx="1162" cy="455.4" r="3.1" fill="#1b98cd"/>
<circle cx="1190" cy="473" r="3.1" fill="#1b98cd"/>
<rect x="1080.6" y="235.6" width="19.8" height="19.8" fill="#e63234" stroke="#161616" stroke-width="2.4"/>
<rect x="1063.7" y="226.1" width="19.8" height="19.8" fill="#e63234" stroke="#161616" stroke-width="2.4"/>
<rect x="1083.5" y="226.1" width="19.8" height="19.8" fill="#e63234" stroke="#161616" stroke-width="2.4"/>
<rect x="1097.1" y="231.2" width="19.8" height="19.8" fill="#e63234" stroke="#161616" stroke-width="2.4"/>
<rect x="1064.1" y="246.9" width="19.8" height="19.8" fill="#e63234" stroke="#161616" stroke-width="2.4"/>
<rect x="1087.3" y="258.3" width="19.8" height="19.8" fill="#e63234" stroke="#161616" stroke-width="2.4"/>
<rect x="1050.7" y="267.9" width="19.8" height="19.8" fill="#e63234" stroke="#161616" stroke-width="2.4"/>
<rect x="1064.7" y="283.7" width="19.8" height="19.8" fill="#e63234" stroke="#161616" stroke-width="2.4"/>
<rect x="1122.1" y="276.5" width="19.8" height="19.8" fill="#e63234" stroke="#161616" stroke-width="2.4"/>
<rect x="1089.7" y="192.8" width="19.8" height="19.8" fill="#e63234" stroke="#161616" stroke-width="2.4"/>
<rect x="1092.5" y="383.7" width="19.8" height="19.8" fill="#e63234" stroke="#161616" stroke-width="2.4"/>
<circle cx="1143.6" cy="220.6" r="9.8" fill="#52a94c" stroke="#161616" stroke-width="2.4"/>
<circle cx="1155" cy="217.2" r="9.8" fill="#52a94c" stroke="#161616" stroke-width="2.4"/>
<circle cx="1169.8" cy="231.3" r="9.8" fill="#52a94c" stroke="#161616" stroke-width="2.4"/>
<circle cx="1159.8" cy="238.5" r="9.8" fill="#52a94c" stroke="#161616" stroke-width="2.4"/>
<circle cx="1187.7" cy="241.1" r="9.8" fill="#52a94c" stroke="#161616" stroke-width="2.4"/>
<circle cx="1169.6" cy="254.5" r="9.8" fill="#52a94c" stroke="#161616" stroke-width="2.4"/>
<circle cx="1150.4" cy="260.5" r="9.8" fill="#52a94c" stroke="#161616" stroke-width="2.4"/>
<g font-family='"Liberation Sans", Arial, sans-serif' font-size="29.2" fill="#161616">
<text transform="translate(121.8,24.8) scale(1,1.04)" text-anchor="end">0.14</text>
<text transform="translate(121.8,113.0) scale(1,1.04)" text-anchor="end">0.135</text>
<text transform="translate(121.8,202.2) scale(1,1.04)" text-anchor="end">0.13</text>
<text transform="translate(121.8,289.5) scale(1,1.04)" text-anchor="end">0.125</text>
<text transform="translate(121.8,376.3) scale(1,1.04)" text-anchor="end">0.12</text>
<text transform="translate(121.8,463.9) scale(1,1.04)" text-anchor="end">0.115</text>
<text transform="translate(121.8,547.8) scale(1,1.04)" text-anchor="end">0.11</text>
<text transform="translate(1007.8,30.8) scale(1,1.04)" text-anchor="end">0.14</text>
<text transform="translate(1007.8,115.7) scale(1,1.04)" text-anchor="end">0.135</text>
<text transform="translate(1007.8,203.4) scale(1,1.04)" text-anchor="end">0.13</text>
<text transform="translate(1007.8,291.0) scale(1,1.04)" text-anchor="end">0.125</text>
<text transform="translate(1007.8,377.2) scale(1,1.04)" text-anchor="end">0.12</text>
<text transform="translate(1007.8,465.9) scale(1,1.04)" text-anchor="end">0.115</text>
<text transform="translate(1007.8,549.9) scale(1,1.04)" text-anchor="end">0.11</text>
<text transform="translate(133.6,574.8) scale(1,1.04)" text-anchor="middle">0</text>
<text transform="translate(278.7,574.8) scale(1,1.04)" text-anchor="middle">0.2</text>
<text transform="translate(430.9,574.8) scale(1,1.04)" text-anchor="middle">0.4</text>
<text transform="translate(576.7,574.8) scale(1,1.04)" text-anchor="middle">0.6</text>
<text transform="translate(724.5,574.8) scale(1,1.04)" text-anchor="middle">0.8</text>
<text transform="translate(871.2,574.8) scale(1,1.04)" text-anchor="middle">1</text>
<text transform="translate(1023.8,574.8) scale(1,1.04)" text-anchor="middle">0</text>
<text transform="translate(1130,574.8) scale(1,1.04)" text-anchor="middle">1</text>
<text transform="translate(1233.2,574.8) scale(1,1.04)" text-anchor="middle">2</text>
<text transform="translate(1338.8,574.8) scale(1,1.04)" text-anchor="middle">3</text>
<text transform="translate(1441,574.8) scale(1,1.04)" text-anchor="middle">4</text>
<text transform="translate(1546.2,574.8) scale(1,1.04)" text-anchor="middle">5</text>
<text transform="translate(1651,574.8) scale(1,1.04)" text-anchor="middle">6</text>
<text transform="translate(1751,574.8) scale(1,1.04)" text-anchor="middle">7</text>
<text transform="translate(436,614.5) scale(1,1.04)"><tspan font-size="16.5" dy="-9.5">187</tspan><tspan dy="9.5">Re</tspan><tspan font-size="16.5" dy="-9.5">/188</tspan><tspan dy="9.5">Os</tspan></text>
<text transform="translate(1240,605.7) scale(1,1.04)">Whole-rock Al<tspan font-size="16.5" dy="9">2</tspan><tspan dy="-9">O</tspan><tspan font-size="16.5" dy="9">3</tspan><tspan dy="-9"> (wt%)</tspan></text>
<text transform="translate(34.6,347.4) rotate(-90) scale(1,1.04)"><tspan font-size="16.5" dy="-9.5">187</tspan><tspan dy="9.5">Os/</tspan><tspan font-size="16.5" dy="-9.5">188</tspan><tspan dy="9.5">Os</tspan></text>
<text transform="translate(917.5,351.4) rotate(-90) scale(1,1.04)"><tspan font-size="16.5" dy="-9.5">187</tspan><tspan dy="9.5">Os/</tspan><tspan font-size="16.5" dy="-9.5">188</tspan><tspan dy="9.5">Os</tspan></text>
<text x="818" y="68.7" font-size="46">a</text>
<text x="1705.5" y="72.1" font-size="46">b</text>
<text transform="translate(322,127) scale(1,1.04)">PUM</text>
<text transform="translate(464,163.6) scale(1,1.04)"><tspan font-size="16.5" dy="-9.5">187</tspan><tspan dy="9.5">Re addition</tspan></text>
<text transform="translate(198,114) rotate(-90) scale(1,1.04)" text-anchor="middle">Addition of</text>
<text transform="translate(230.4,115.5) rotate(-90) scale(1,1.04)" text-anchor="middle">radiogenic Os</text>
<text transform="translate(361.5,426.5) rotate(-90) scale(1,1.04)" text-anchor="middle">Old</text>
<text transform="translate(395,426) rotate(-90) scale(1,1.04)" text-anchor="middle">depletion</text>
<text transform="translate(165.5,500.2) scale(1,1.04)" textLength="121.5" lengthAdjust="spacingAndGlyphs">14DZQ71</text>
<text transform="translate(1479,351.8) scale(1,1.04)">T<tspan font-size="16.5" dy="9.2">RD</tspan><tspan dy="-9.2"> = 1.0 Ga</tspan></text>
</g>
<rect x="468.6" y="401.2" width="390.1" height="121.5" fill="#fdfdfb" stroke="#161616" stroke-width="2.2"/>
<rect x="478.8" y="415" width="17.8" height="17.9" fill="#e63234" stroke="#161616" stroke-width="2.2"/>
<circle cx="487.9" cy="466" r="9.5" fill="#52a94c" stroke="#161616" stroke-width="2.2"/>
<circle cx="487.4" cy="501.6" r="3.8" fill="none" stroke="#34303a" stroke-width="1.2"/>
<g font-family='"Liberation Sans", Arial, sans-serif' font-size="29.2" fill="#161616"><text transform="translate(505,430.9) scale(1,1.04)">Dazhuqu harzburgite</text><text transform="translate(505,473) scale(1,1.04)">Dazhuqu lherzolite</text><text transform="translate(505,512.7) scale(1,1.04)">Purang&amp;Dongbo peridotite</text></g>
<rect x="1456.7" y="445.1" width="286.6" height="74.5" fill="#fdfdfb" stroke="#161616" stroke-width="2.2"/>
<circle cx="1470.9" cy="466.9" r="3.2" fill="#1b98cd"/>
<path d="M1466.5,501.5 h10 M1471.5,496.5 v10" stroke="#a05fa4" stroke-width="1.2"/>
<g font-family='"Liberation Sans", Arial, sans-serif' font-size="29.2" fill="#161616"><text transform="translate(1483,474.5) scale(1,1.04)">Abyssal peridotite</text><text transform="translate(1483,510.5) scale(1,1.04)">Non-cratonic SCLM</text></g>
</svg></body></html>
